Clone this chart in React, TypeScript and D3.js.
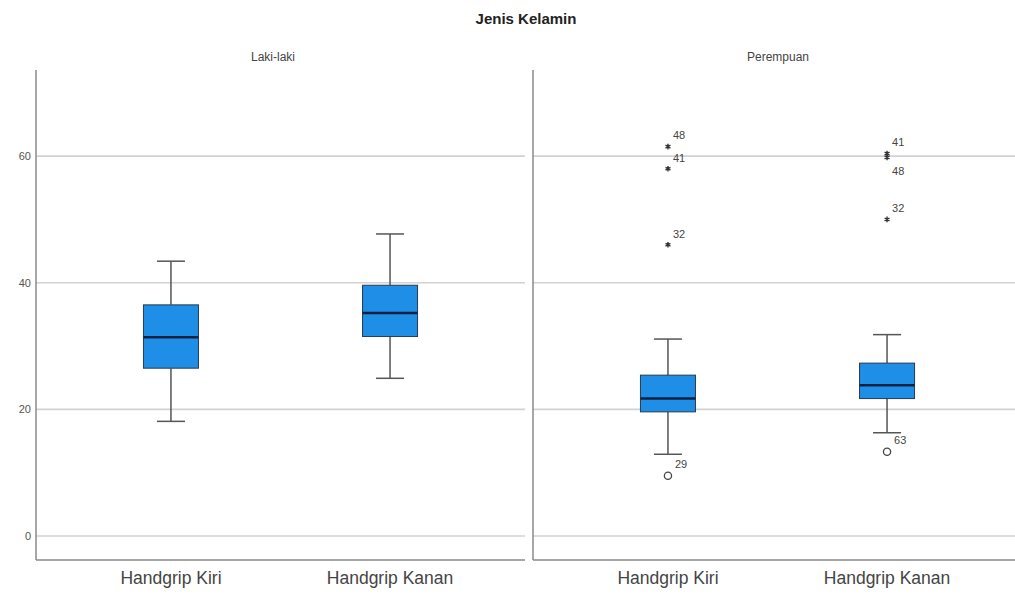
import React from "react";
import * as d3 from "d3";

// Grip strength by sex: two facet panels, two measurements each
const panels = ["Laki-laki", "Perempuan"];
const categories = ["Handgrip Kiri", "Handgrip Kanan"];
const yTicks = [0, 20, 40, 60];

// [lower whisker, Q1, median, Q3, upper whisker]
const lakiBoxes = [
  [18.1, 26.5, 31.4, 36.5, 43.4],
  [24.9, 31.5, 35.2, 39.6, 47.7],
];
const perempuanBoxes = [
  [12.9, 19.6, 21.7, 25.4, 31.1],
  [16.3, 21.7, 23.8, 27.3, 31.8],
];

// Outlying cases in the Perempuan panel: category index, value, case id, kind
const outlierCategory = [0, 0, 0, 0, 1, 1, 1, 1];
const outlierValue = [61.5, 58.0, 46.0, 9.5, 60.4, 59.8, 50.0, 13.3];
const outlierId = ["48", "41", "32", "29", "41", "48", "32", "63"];
const outlierKind = ["extreme", "extreme", "extreme", "mild", "extreme", "extreme", "extreme", "mild"];

const W = 1015;
const H = 595;
const top = 70;
const bottom = 560;
const panelWidth = 489;
const panelLeft = [36, 533];
const headerX = [273, 778];

const FONT = "'Liberation Sans', Arial, sans-serif";
const BOX_FILL = "#1e8ee6";
const GRID = "#d2d2d2";
const AXIS = "#8a8a8a";

export default function App() {
  const y = d3.scaleLinear().domain([-3.8, 73.6]).range([bottom, top]);
  const x = d3.scalePoint<string>().domain(categories).range([0, panelWidth]).padding(0.616);
  const boxW = 55;
  const capW = 28;
  const asterisk = d3.symbol().type(d3.symbolAsterisk).size(22)();

  const panelBoxes = [lakiBoxes, perempuanBoxes];

  // Outlier labels: above-right of the mark, flipped below when they would collide
  const outliers = outlierValue.map((v, i) => ({
    cat: outlierCategory[i],
    value: v,
    id: outlierId[i],
    kind: outlierKind[i],
  }));
  const placed: { cat: number; ly: number }[] = [];
  const labelled = outliers
    .slice()
    .sort((a, b) => b.value - a.value)
    .map((o) => {
      const py = y(o.value);
      let ly = py - (o.kind === "mild" ? 12 : 11);
      if (placed.some((p) => p.cat === o.cat && Math.abs(p.ly - ly) < 12)) ly = py + 14;
      placed.push({ cat: o.cat, ly });
      return { ...o, py, ly };
    });

  return (
    <svg
      width={W}
      height={H}
      style={{ position: "absolute", left: 0, top: 0, background: "#fff" }}
      fontFamily={FONT}
    >
      <text x={526} y={24} textAnchor="middle" fontSize={15} fontWeight="bold" fill="#222">
        Jenis Kelamin
      </text>

      {/* y tick labels */}
      {yTicks.map((t) => (
        <text key={t} x={31} y={y(t)} dy="0.35em" textAnchor="end" fontSize={11} fill="#555">
          {t}
        </text>
      ))}

      {panels.map((p, pi) => {
        const x0 = panelLeft[pi];
        const gridRight = pi === 0 ? x0 + panelWidth : W;
        return (
          <g key={p}>
            <text x={headerX[pi]} y={61} textAnchor="middle" fontSize={12} fill="#444">
              {p}
            </text>
            {yTicks.map((t) => (
              <line
                key={t}
                x1={x0}
                x2={gridRight}
                y1={y(t)}
                y2={y(t)}
                stroke={GRID}
                strokeWidth={1.6}
              />
            ))}
            <line x1={x0} x2={x0} y1={top} y2={bottom} stroke={AXIS} strokeWidth={1.5} />
            <line x1={x0} x2={gridRight} y1={bottom} y2={bottom} stroke={AXIS} strokeWidth={1.5} />

            {categories.map((c, ci) => {
              const [lo, q1, med, q3, hi] = panelBoxes[pi][ci];
              const cx = x0 + (x(c) as number);
              return (
                <g key={c}>
                  <line x1={cx} x2={cx} y1={y(hi)} y2={y(q3)} stroke="#555" strokeWidth={1.5} />
                  <line x1={cx} x2={cx} y1={y(q1)} y2={y(lo)} stroke="#555" strokeWidth={1.5} />
                  <line x1={cx - capW / 2} x2={cx + capW / 2} y1={y(hi)} y2={y(hi)} stroke="#555" strokeWidth={1.5} />
                  <line x1={cx - capW / 2} x2={cx + capW / 2} y1={y(lo)} y2={y(lo)} stroke="#555" strokeWidth={1.5} />
                  <rect
                    x={cx - boxW / 2}
                    y={y(q3)}
                    width={boxW}
                    height={y(q1) - y(q3)}
                    fill={BOX_FILL}
                    stroke="#2a3a4a"
                    strokeWidth={1}
                  />
                  <line
                    x1={cx - boxW / 2}
                    x2={cx + boxW / 2}
                    y1={y(med)}
                    y2={y(med)}
                    stroke="#0d2240"
                    strokeWidth={2.5}
                  />
                  <text x={cx} y={584} textAnchor="middle" fontSize={17.5} fill="#444">
                    {c}
                  </text>
                </g>
              );
            })}

            {pi === 1 &&
              labelled.map((o, i) => {
                const cx = x0 + (x(categories[o.cat]) as number);
                return (
                  <g key={i}>
                    {o.kind === "extreme" ? (
                      <path d={asterisk ?? ""} transform={`translate(${cx},${o.py})`} stroke="#333" strokeWidth={1.4} fill="none" />
                    ) : (
                      <circle cx={cx} cy={o.py} r={3.6} fill="#fff" stroke="#444" strokeWidth={1.3} />
                    )}
                    <text
                      x={cx + (o.kind === "mild" ? 7 : 5)}
                      y={o.ly}
                      dy="0.35em"
                      fontSize={11}
                      fill="#444"
                    >
                      {o.id}
                    </text>
                  </g>
                );
              })}
          </g>
        );
      })}
    </svg>
  );
}
